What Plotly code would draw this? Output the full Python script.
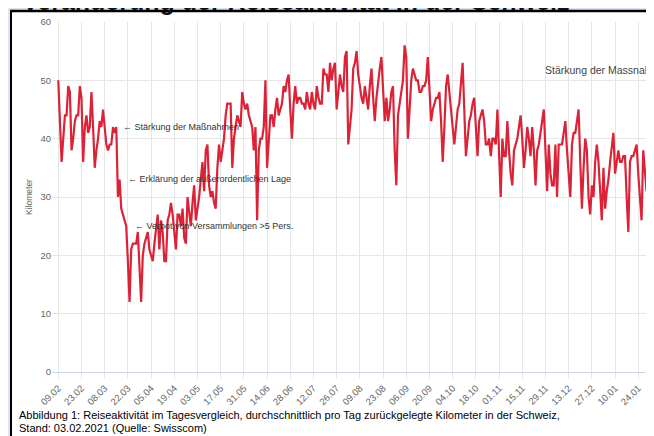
import plotly.graph_objects as go
import pandas as pd

# ---------------- data ----------------
start_date = "2020-02-09"
km_values = [
    50, 43, 36, 40, 44, 44, 49,
    48, 38, 40, 43, 44, 44, 49,
    47, 36, 42, 44, 41, 42, 48,
    42, 35, 38, 40, 43, 42, 45,
    42, 39, 38, 39, 39, 42, 41,
    42, 30, 33, 28, 27, 26, 25,
    19, 12, 21, 22, 22, 22, 24,
    19, 12, 20, 22, 23, 24, 21,
    20, 19, 22, 25, 27, 21, 26,
    24, 19, 19, 26, 27, 29, 27,
    24, 21, 27, 27, 25, 28, 23,
    22, 30, 27, 25, 29, 32, 26,
    28, 30, 33, 36, 31, 38, 39,
    32, 30, 31, 29, 28, 35, 39,
    36, 38, 40, 44, 46, 46, 46,
    35, 40, 42, 44, 43, 42, 48,
    46, 45, 46, 44, 43, 42, 38,
    42, 26, 38, 40, 40, 42, 50,
    35, 40, 44, 44, 42, 45, 47,
    44, 45, 46, 49, 48, 50, 51,
    45, 40, 46, 49, 46, 47, 47,
    46, 46, 45, 48, 46, 45, 48,
    46, 45, 49, 47, 46, 46, 52,
    51, 51, 48, 53, 50, 52, 53,
    45, 48, 51, 49, 48, 54, 55,
    39, 42, 45, 52, 53, 55, 51,
    49, 47, 46, 49, 47, 45, 49,
    52, 47, 43, 47, 50, 52, 54,
    48, 43, 47, 43, 45, 48, 49,
    38, 32, 44, 46, 48, 50, 56,
    54, 40, 45, 50, 52, 51, 50,
    50, 48, 48, 49, 49, 50, 54,
    48, 43, 45, 46, 47, 47, 48,
    43, 36, 42, 49, 51, 48, 44,
    41, 39, 42, 45, 46, 49, 53,
    45, 37, 40, 43, 44, 46, 47,
    42, 37, 43, 44, 45, 43, 39,
    39, 40, 37, 40, 40, 39, 45,
    38, 30, 40, 37, 37, 43, 38,
    34, 32, 38, 39, 40, 42, 44,
    40, 35, 38, 42, 40, 37, 42,
    38, 32, 38, 39, 41, 43, 45,
    38, 31, 39, 34, 32, 32, 39,
    30, 39, 39, 39, 41, 43, 38,
    33, 30, 39, 41, 41, 43, 45,
    36, 28, 35, 40, 38, 30, 27,
    32, 30, 36, 39, 36, 31, 26,
    35, 28, 31, 33, 36, 39, 41,
    34, 36, 38, 36, 36, 37, 37,
    30, 24, 36, 37, 37, 38, 39,
    34, 30, 26, 38, 34, 31, 38,
    31, 34, 37,
]
tick_labels = ["09.02", "23.02", "08.03", "22.03", "05.04", "19.04", "03.05",
               "17.05", "31.05", "14.06", "28.06", "12.07", "26.07", "09.08",
               "23.08", "06.09", "20.09", "04.10", "18.10", "01.11", "15.11",
               "29.11", "13.12", "27.12", "10.01", "24.01"]
y_ticks = [0, 10, 20, 30, 40, 50, 60]

dates = pd.date_range(start_date, periods=len(km_values), freq="D")
tick_dates = pd.date_range(start_date, periods=len(tick_labels), freq="14D")

# ---------------- layout helpers (page pixel coordinates) ----------------
OFF = 8                      # page offset of the figure inside the html body
W, H = 646, 428              # figure size (page 8..654 x 8..436)
ML, MR, MT, MB = 44, 0, 14, 64
PW, PH = W - ML - MR, H - MT - MB
FONT = "Liberation Sans, Arial, sans-serif"
BLUE = "#dce6f2"


def px(x):
    return (x - OFF - ML) / PW


def py(y):
    return (H - MB - (y - OFF)) / PH


fig = go.Figure()
fig.add_trace(go.Scatter(
    x=dates, y=km_values, mode="lines",
    line=dict(color="#dc2237", width=2.2),
    hoverinfo="skip", showlegend=False,
))

# cut-off chart title (partly hidden under the frame)
fig.add_trace(go.Scatter(
    x=[18], y=[10.5], xaxis="x2", yaxis="y2", mode="text",
    text=["<b>Veränderung der Reiseaktivität in der Schweiz</b>"],
    textposition="middle right",
    textfont=dict(size=13, color="#000", family=FONT),
    cliponaxis=False, hoverinfo="skip", showlegend=False,
))

fig.update_layout(
    width=W, height=H,
    margin=dict(l=ML, r=MR, t=MT, b=MB),
    paper_bgcolor=BLUE,
    plot_bgcolor="rgba(0,0,0,0)",
    font=dict(family=FONT),
    xaxis=dict(
        type="date",
        range=["2020-02-05 05:00", "2021-02-02 12:00"],
        tickvals=tick_dates, ticktext=tick_labels, tickangle=-45,
        tickfont=dict(size=9.5, color="#666"),
        showgrid=True, gridcolor="#e6e6e6", gridwidth=1,
        ticks="outside", ticklen=6, tickcolor="#e6e6e6",
        showline=True, linecolor="#ccd6eb", linewidth=1,
        zeroline=False,
    ),
    yaxis=dict(
        range=[0, 60], tickvals=y_ticks,
        tickfont=dict(size=9.5, color="#666"),
        showgrid=True, gridcolor="#e6e6e6", gridwidth=1,
        zeroline=False, ticks="",
        title=dict(text="Kilometer", font=dict(size=8.5, color="#666"), standoff=6),
    ),
    xaxis2=dict(overlaying="x", range=[52, 654], visible=False),
    yaxis2=dict(overlaying="y", range=[372, 22], visible=False),
)

shapes = [
    # white page with black frame
    dict(type="rect", xref="paper", yref="paper", layer="below",
         x0=px(11), x1=px(720), y0=py(11), y1=py(520),
         fillcolor="white", line=dict(color="black", width=2)),
    # blue strip and frame edge above the cut title
    dict(type="rect", xref="paper", yref="paper", layer="above",
         x0=px(-20), x1=px(720), y0=py(-20), y1=py(10),
         fillcolor=BLUE, line=dict(width=0)),
    dict(type="line", xref="paper", yref="paper", layer="above",
         x0=px(10), x1=px(720), y0=py(11), y1=py(11),
         line=dict(color="black", width=2.5)),
]
fig.update_layout(shapes=shapes)

ann = []
# page heading, cut off at the top
ann.append(dict(xref="paper", yref="paper", x=px(20), y=py(17), xanchor="left", yanchor="bottom",
                text="<b>Veränderung der Reiseaktivität in der Schweiz</b>", showarrow=False,
                font=dict(size=25, color="#111", family=FONT)))
# event notes
notes = [
    (121, 127, "← Stärkung der Maßnahmen"),
    (126, 179, "← Erklärung der außerordentlichen Lage"),
    (133, 226, "← Verbot von Versammlungen >5 Pers."),
]
for x, y, t in notes:
    ann.append(dict(xref="paper", yref="paper", x=px(x), y=py(y), xanchor="left", yanchor="middle",
                    text=t, showarrow=False, font=dict(size=9, color="#333", family=FONT)))
ann.append(dict(xref="paper", yref="paper", x=px(543), y=py(70), xanchor="left", yanchor="middle",
                text="Stärkung der Massnahmen", showarrow=False,
                font=dict(size=10.5, color="#444", family=FONT)))
# caption
ann.append(dict(xref="paper", yref="paper", x=px(17), y=py(415), xanchor="left", yanchor="middle",
                text="Abbildung 1: Reiseaktivität im Tagesvergleich, durchschnittlich pro Tag zurückgelegte Kilometer in der Schweiz,",
                showarrow=False, font=dict(size=11, color="#000", family=FONT)))
ann.append(dict(xref="paper", yref="paper", x=px(17), y=py(428), xanchor="left", yanchor="middle",
                text="Stand: 03.02.2021 (Quelle: Swisscom)",
                showarrow=False, font=dict(size=11, color="#000", family=FONT)))
fig.update_layout(annotations=ann)

fig.write_html("out.html")
